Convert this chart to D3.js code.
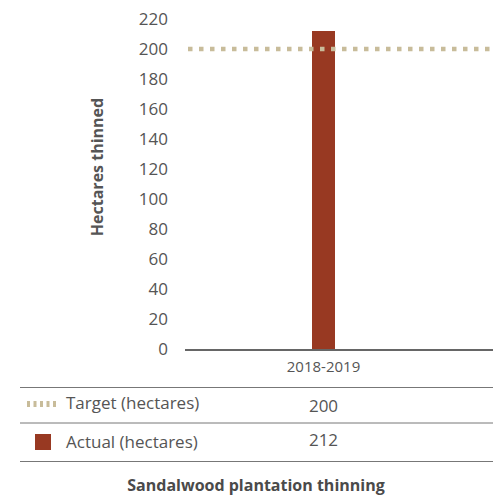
<!DOCTYPE html>
<html>
<head>
<meta charset="utf-8">
<script src="https://cdn.jsdelivr.net/npm/d3@7"></script>
<style>
  html, body { margin: 0; padding: 0; background: #fff; }
  svg { display: block; font-family: "Open Sans", Lato, sans-serif; }
</style>
</head>
<body>
<svg id="chart" width="501" height="495"></svg>
<script>
// Sandalwood plantation thinning: actual vs target hectares
const categories = ["2018-2019"];
const actualValues = [212];
const targetValues = [200];
const yTicks = [0, 20, 40, 60, 80, 100, 120, 140, 160, 180, 200, 220];
const seriesNames = ["Target (hectares)", "Actual (hectares)"];

const textColor = "#555555";
const barColor = "#983922";
const targetColor = "#c8bc9a";
const font = "'Open Sans', Lato, sans-serif";

const svg = d3.select("#chart");

const y = d3.scaleLinear().domain([0, 220]).range([349, 19]);
const barCenter = 323.5;
const barW = 23;

// Y axis tick labels (no axis line)
const yAxis = d3.axisLeft(y).tickValues(yTicks).tickSize(0).tickPadding(0);
const gy = svg.append("g").attr("transform", "translate(168,0)").call(yAxis);
gy.select(".domain").remove();
gy.selectAll("text")
  .attr("fill", textColor)
  .attr("dy", "0.34em")
  .style("font-size", "17px")
  .style("font-family", font);

// Axis title
svg.append("text")
  .attr("transform", "translate(103,167) rotate(-90)")
  .attr("text-anchor", "middle")
  .attr("fill", textColor)
  .style("font-size", "16px")
  .style("font-weight", "bold")
  .text("Hectares thinned");

// Bars
svg.selectAll("rect.bar")
  .data(actualValues)
  .join("rect")
  .attr("class", "bar")
  .attr("x", barCenter - barW / 2)
  .attr("width", barW)
  .attr("y", d => y(d))
  .attr("height", d => y(0) - y(d))
  .attr("fill", barColor);

// Target line
svg.selectAll("line.target")
  .data(targetValues)
  .join("line")
  .attr("class", "target")
  .attr("x1", 188).attr("x2", 493)
  .attr("y1", d => y(d)).attr("y2", d => y(d))
  .attr("stroke", targetColor)
  .attr("stroke-width", 4.5)
  .attr("stroke-dasharray", "4.5,6.5");

// Baseline
svg.append("line")
  .attr("x1", 185).attr("x2", 493)
  .attr("y1", y(0) + 1).attr("y2", y(0) + 1)
  .attr("stroke", "#666666")
  .attr("stroke-width", 2);

// Category labels
svg.selectAll("text.cat")
  .data(categories)
  .join("text")
  .attr("class", "cat")
  .attr("x", barCenter)
  .attr("y", 372)
  .attr("text-anchor", "middle")
  .attr("fill", textColor)
  .style("font-size", "15px")
  .text(d => d);

// Data table
const rowLines = [387.5, 423, 461.5];
svg.selectAll("line.row")
  .data(rowLines)
  .join("line")
  .attr("class", "row")
  .attr("x1", 20).attr("x2", 493)
  .attr("y1", d => d).attr("y2", d => d)
  .attr("stroke", "#777777")
  .attr("stroke-width", 1);

// Target row
svg.append("line")
  .attr("x1", 27).attr("x2", 56)
  .attr("y1", 404).attr("y2", 404)
  .attr("stroke", targetColor)
  .attr("stroke-width", 6)
  .attr("stroke-dasharray", "3,3.5");
svg.append("text")
  .attr("x", 66).attr("y", 409)
  .attr("fill", textColor)
  .style("font-size", "17px")
  .text(seriesNames[0]);
svg.selectAll("text.tval")
  .data(targetValues)
  .join("text")
  .attr("class", "tval")
  .attr("x", barCenter).attr("y", 412)
  .attr("text-anchor", "middle")
  .attr("fill", textColor)
  .style("font-size", "17px")
  .text(d => d);

// Actual row
svg.append("rect")
  .attr("x", 35).attr("y", 434)
  .attr("width", 16).attr("height", 16)
  .attr("fill", barColor);
svg.append("text")
  .attr("x", 66).attr("y", 448)
  .attr("fill", textColor)
  .style("font-size", "17px")
  .text(seriesNames[1]);
svg.selectAll("text.aval")
  .data(actualValues)
  .join("text")
  .attr("class", "aval")
  .attr("x", barCenter).attr("y", 446)
  .attr("text-anchor", "middle")
  .attr("fill", textColor)
  .style("font-size", "17px")
  .text(d => d);

// Chart title
svg.append("text")
  .attr("x", 256).attr("y", 491)
  .attr("text-anchor", "middle")
  .attr("fill", "#4a4a4a")
  .style("font-size", "16px")
  .style("font-weight", "bold")
  .text("Sandalwood plantation thinning");
</script>
</body>
</html>
